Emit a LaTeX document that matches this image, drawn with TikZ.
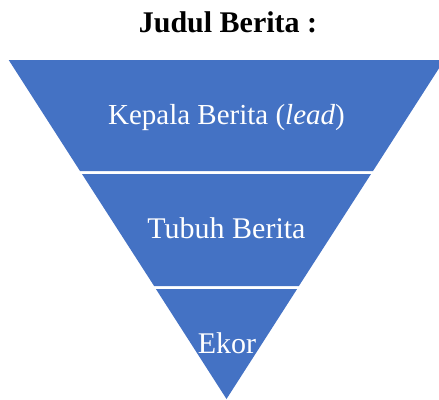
\documentclass[tikz,border=0pt]{standalone}
\usepackage{fontspec}
\setmainfont{Liberation Serif}
\definecolor{bandblue}{HTML}{4472C4}
\begin{document}
\begin{tikzpicture}[x=1pt,y=-1pt,
  band/.style={fill=bandblue,draw=none},
  bandtext/.style={text=white,anchor=base,inner sep=0pt,font=\fontsize{30}{36}\selectfont},
  titletext/.style={text=black,anchor=base,inner sep=0pt,font=\fontsize{30}{36}\selectfont\bfseries}]
\useasboundingbox (0,0) rectangle (439,399);
\clip (0,0) rectangle (439,399);
% half width at y: (399-y)*0.6425, centre x=226.5
\path[band] (8.7,60) -- (444.3,60) -- (373.0,171) -- (80.0,171) -- cycle;
\path[band] (82.0,174) -- (371.0,174) -- (298.9,286) -- (154.1,286) -- cycle;
\path[band] (155.9,289) -- (297.1,289) -- (226.5,399) -- cycle;
\node[titletext] (title) at (228,32) {Judul Berita :};
\node[bandtext,font=\fontsize{29}{35}\selectfont] (lead) at (226.5,124) {Kepala Berita (\textit{lead})};
\node[bandtext] (body) at (226.5,238) {Tubuh Berita};
\node[bandtext] (tail) at (227,353) {Ekor};
\end{tikzpicture}
\end{document}
